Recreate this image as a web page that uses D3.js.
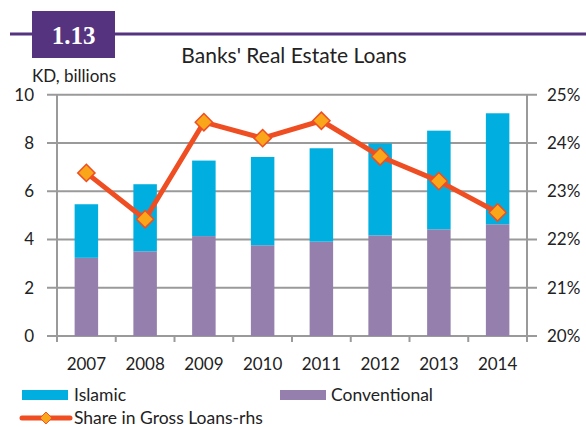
<!DOCTYPE html>
<html><head><meta charset="utf-8">
<script src="https://cdn.jsdelivr.net/npm/d3@7"></script>
<style>body{margin:0;background:#fff;}svg{display:block;font-family:Lato,"Open Sans",sans-serif;}</style>
</head><body><svg id="c" width="586" height="427"></svg>
<script>
const years = ["2007","2008","2009","2010","2011","2012","2013","2014"];
const conventional = [3.24,3.51,4.14,3.76,3.91,4.17,4.42,4.63];
const islamic = [2.22,2.78,3.13,3.66,3.87,3.81,4.09,4.60];
const share = [23.38,22.42,24.43,24.10,24.46,23.72,23.21,22.56];
const leftTicks = [0,2,4,6,8,10];
const rightTicks = [20,21,22,23,24,25];

const svg = d3.select("#c");
const L = 57, R = 527, T = 94.7, B = 336;
const x = d3.scaleBand().domain(years).range([L,R]).paddingInner(0.6).paddingOuter(0.3);
const xc = d3.scaleBand().domain(years).range([L,R]);
const y = d3.scaleLinear().domain([0,10]).range([B,T]);
const y2 = d3.scaleLinear().domain([20,25]).range([B,T]);
const grid = "#9a9a9a", purple = "#55337f";

// header
svg.append("line").attr("x1",10).attr("x2",586).attr("y1",34).attr("y2",34).attr("stroke",purple).attr("stroke-width",3);
svg.append("rect").attr("x",32).attr("y",11).attr("width",83).attr("height",47).attr("fill",purple);
svg.append("text").attr("x",73.5).attr("y",44).attr("text-anchor","middle").attr("fill","#fff")
  .attr("font-family","'Liberation Serif',serif").attr("font-weight","bold").attr("font-size",25).text("1.13");
svg.append("text").attr("x",294).attr("y",63).attr("text-anchor","middle").attr("font-size",21).attr("fill","#222").text("Banks' Real Estate Loans");
svg.append("text").attr("x",32).attr("y",82).attr("font-size",17).attr("fill","#222").text("KD, billions");

// gridlines
svg.append("g").selectAll("line").data(leftTicks).join("line")
  .attr("x1",L-10).attr("x2",R+10).attr("y1",d=>y(d)).attr("y2",d=>y(d)).attr("stroke",grid).attr("stroke-width",2);

// axes
svg.append("line").attr("x1",L).attr("x2",L).attr("y1",T).attr("y2",B+6).attr("stroke",grid).attr("stroke-width",2);
svg.append("line").attr("x1",R).attr("x2",R).attr("y1",T).attr("y2",B+6).attr("stroke",grid).attr("stroke-width",2);
svg.append("g").selectAll("line").data(years.slice(1)).join("line")
  .attr("x1",d=>xc(d)).attr("x2",d=>xc(d)).attr("y1",B).attr("y2",B+6).attr("stroke",grid).attr("stroke-width",2);

// bars
const g = svg.append("g");
years.forEach((yr,i)=>{
  g.append("rect").attr("x",x(yr)).attr("width",x.bandwidth()).attr("y",y(conventional[i])).attr("height",y(0)-y(conventional[i])).attr("fill","#9580ad");
  g.append("rect").attr("x",x(yr)).attr("width",x.bandwidth()).attr("y",y(conventional[i]+islamic[i])).attr("height",y(0)-y(islamic[i])).attr("fill","#00afdf");
});

// tick labels
svg.append("g").selectAll("text").data(leftTicks).join("text")
  .attr("x",34).attr("y",d=>y(d)+6).attr("text-anchor","end").attr("font-size",17).attr("fill","#222").text(d=>d);
svg.append("g").selectAll("text").data(rightTicks).join("text")
  .attr("x",547).attr("y",d=>y2(d)+6).attr("font-size",17).attr("fill","#222").text(d=>d+"%");
svg.append("g").selectAll("text").data(years).join("text")
  .attr("x",d=>xc(d)+xc.bandwidth()/2).attr("y",370).attr("text-anchor","middle").attr("font-size",17).attr("fill","#222").text(d=>d);

// line
const line = d3.line().x((d,i)=>xc(years[i])+xc.bandwidth()/2).y(d=>y2(d));
svg.append("path").datum(share).attr("d",line).attr("fill","none").attr("stroke","#ef4e23").attr("stroke-width",5).attr("stroke-linejoin","round");
svg.append("g").selectAll("path").data(share).join("path")
  .attr("d",d3.symbol(d3.symbolDiamond2,190)())
  .attr("transform",(d,i)=>`translate(${xc(years[i])+xc.bandwidth()/2},${y2(d)})`)
  .attr("fill","#f9a61b").attr("stroke","#ef4e23").attr("stroke-width",1.5);

// legend
svg.append("rect").attr("x",22).attr("y",390).attr("width",46).attr("height",10).attr("fill","#00afdf");
svg.append("text").attr("x",74).attr("y",401).attr("font-size",17.5).attr("fill","#222").text("Islamic");
svg.append("rect").attr("x",280).attr("y",390).attr("width",46).attr("height",10).attr("fill","#9580ad");
svg.append("text").attr("x",331).attr("y",401).attr("font-size",17.5).attr("fill","#222").text("Conventional");
svg.append("line").attr("x1",22).attr("x2",70).attr("y1",418).attr("y2",418).attr("stroke","#ef4e23").attr("stroke-width",5).attr("stroke-linecap","round");
svg.append("path").attr("d",d3.symbol(d3.symbolDiamond2,90)()).attr("transform","translate(46,418)").attr("fill","#f9a61b").attr("stroke","#ef4e23").attr("stroke-width",1);
svg.append("text").attr("x",74).attr("y",424).attr("font-size",17.5).attr("fill","#222").text("Share in Gross Loans-rhs");
</script></body></html>
